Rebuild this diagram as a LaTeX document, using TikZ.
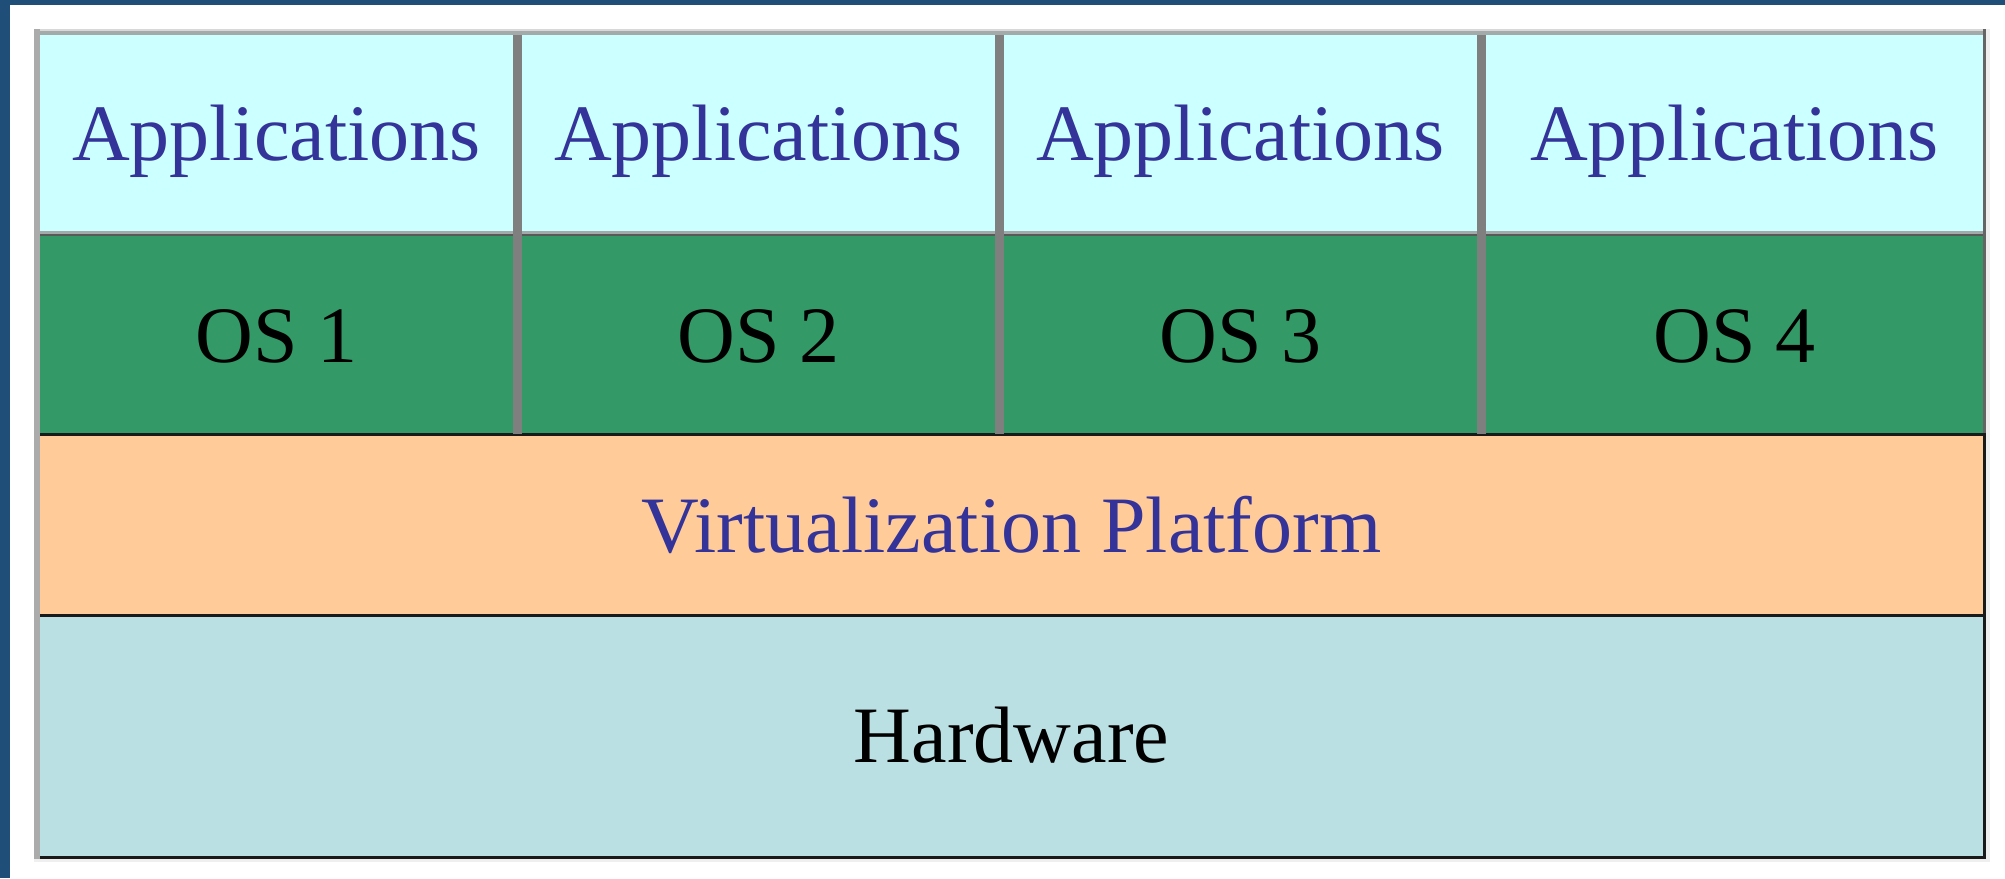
\documentclass[tikz,border=0pt]{standalone}
\usepackage{fontspec}
\setmainfont{Liberation Serif}
\definecolor{frameblue}{HTML}{1F4E79}
\definecolor{appfill}{HTML}{CCFFFF}
\definecolor{osfill}{HTML}{339966}
\definecolor{virtfill}{HTML}{FFCC99}
\definecolor{hwfill}{HTML}{BBE0E3}
\definecolor{labelblue}{HTML}{333399}
\definecolor{rulegray}{HTML}{7F7F7F}
\definecolor{edgegray}{HTML}{A2AAAA}
\definecolor{edgelight}{HTML}{D8D8D8}
\definecolor{sidegray}{HTML}{ABABAB}
\definecolor{darkrule}{HTML}{1A1A1A}
\definecolor{shadowgray}{HTML}{EFEFEF}
\begin{document}
\begin{tikzpicture}[x=0.5pt,y=-0.5pt,
  cell/.style={inner sep=0pt, outer sep=0pt, text height=26.5pt, text depth=0pt,
               font=\fontsize{40pt}{48pt}\selectfont},
  appcell/.style={cell, fill=appfill, text=labelblue, minimum width=236.5pt, minimum height=98.5pt},
  oscell/.style={cell, fill=osfill, text=black, minimum width=236.5pt, minimum height=100pt},
]
\useasboundingbox (0,0) rectangle (2005,878);
\fill[white] (0,0) rectangle (2005,878);
% page frame
\fill[frameblue] (0,0) rectangle (2005,5);
\fill[frameblue] (0,0) rectangle (10,878);

% light shadow round the table
\fill[shadowgray] (34,856) rectangle (1990,862);
\fill[shadowgray] (1983,29) rectangle (1990,862);

% application row
\node[appcell] (app1) at (276.5,133.5) {Applications};
\node[appcell] (app2) at (758.5,133.5) {Applications};
\node[appcell] (app3) at (1240.5,133.5) {Applications};
\node[appcell, minimum width=248.5pt] (app4) at (1734.5,133.5) {Applications};

% guest systems row
\node[oscell] (os1) at (276.5,336) {OS 1};
\node[oscell] (os2) at (758.5,336) {OS 2};
\node[oscell] (os3) at (1240.5,336) {OS 3};
\node[oscell, minimum width=248.5pt] (os4) at (1734.5,336) {OS 4};

% platform and hardware rows
\node[cell, fill=virtfill, text=labelblue, minimum width=971.5pt, minimum height=90.5pt]
  (virt) at (1011.5,526) {Virtualization Platform};
\node[cell, fill=hwfill, text=black, minimum width=971.5pt, minimum height=121pt]
  (hw) at (1011.5,736) {Hardware};

% outer border
\fill[edgelight] (34,29) rectangle (1986,31);
\fill[edgegray] (34,31) rectangle (1986,35);
\fill[sidegray] (34,29) rectangle (40,859);
\fill[rulegray!80!black] (1983,29) rectangle (1986,434);
\fill[darkrule] (1983,433) rectangle (1986,859);
\fill[darkrule] (40,856) rectangle (1986,859);

% row rules
\fill[edgegray] (40,231) rectangle (1983,234);
\fill[rulegray!70!black] (40,234) rectangle (1983,236);
\fill[darkrule] (40,432.5) rectangle (1983,436);
\fill[darkrule] (40,613.5) rectangle (1983,616.5);

% column rules
\fill[rulegray] (513,35) rectangle (522,434);
\fill[rulegray] (995,35) rectangle (1004,434);
\fill[rulegray] (1477,35) rectangle (1486,434);
\end{tikzpicture}
\end{document}
